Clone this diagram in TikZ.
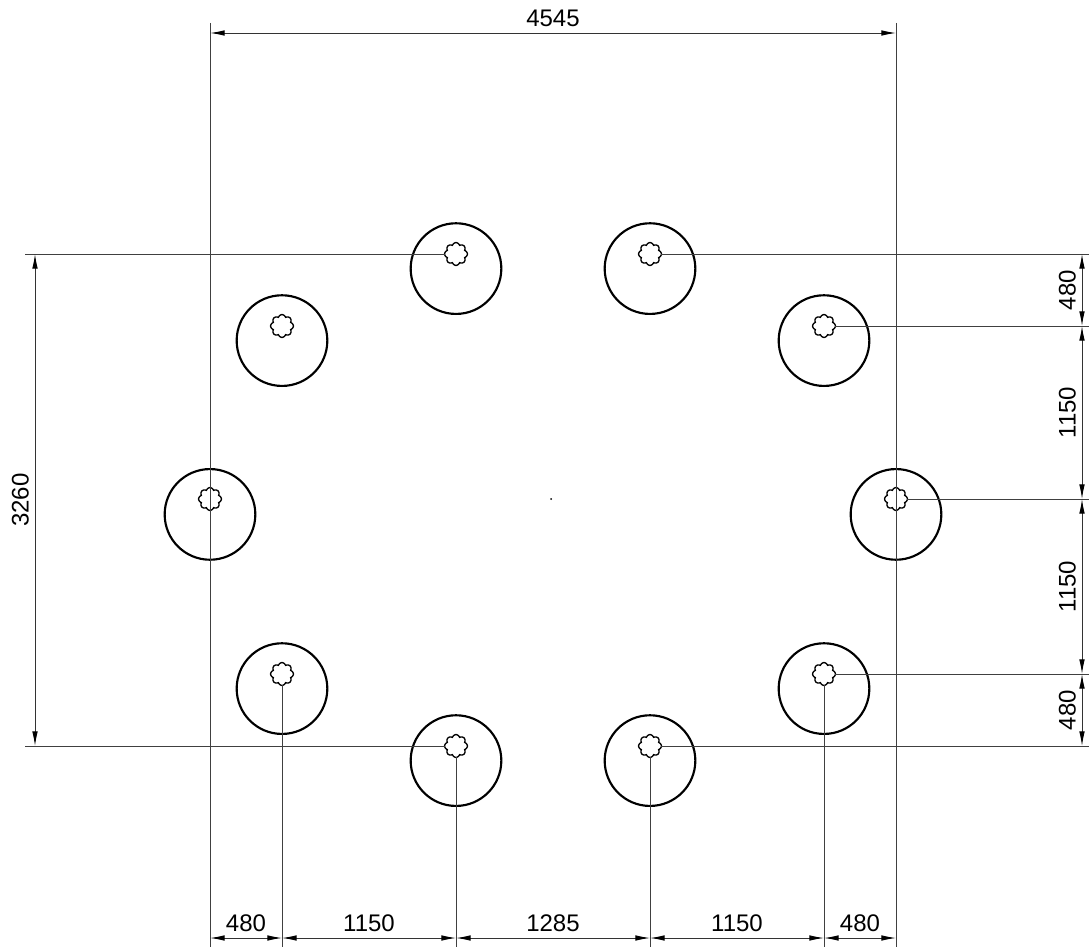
\documentclass[tikz,border=0pt]{standalone}
\usepackage{fontspec}
\setmainfont{Liberation Sans}
\usetikzlibrary{arrows.meta}

\begin{document}
\begin{tikzpicture}[x=0.75pt,y=-0.75pt,
    ring/.style={circle,draw=black,line width=1.6pt,inner sep=0pt,minimum size=68pt},
    hole/.style={circle,inner sep=0pt,minimum size=16.5pt},
    extline/.style={draw=black!75,line width=0.75pt},
    dimline/.style={draw=black!80,line width=0.7pt,{Latex[length=11pt,width=4.2pt,black]}-{Latex[length=11pt,width=4.2pt,black]}},
    dimtext/.style={font=\fontsize{18}{18}\selectfont,inner sep=4.2pt}]
        \useasboundingbox (0,0) rectangle (1089,949);

        % rings and holes
        \foreach \n/\x/\y/\ry in {a/456/254/268.6,b/650/254/268.6,c/824/326/340.6,d/896/499/514.4,e/824/674/688.6,f/650/746/760.6,g/456/746/760.6,h/282/674/688.6,i/210/499/514.4,j/282/326/340.6}{
            \node[ring] (r\n) at (\x,\ry) {};
            \node[hole] (h\n) at (\x,\y) {};
            \draw[line width=1pt] plot[variable=\t,domain=0:360,samples=97,smooth]
                ({\x+(9.4+2*abs(cos(4*\t)))*cos(\t)},{\y+(9.4+2*abs(cos(4*\t)))*sin(\t)});
        }
        \node[circle,fill=black,inner sep=0pt,minimum size=1.5pt] (mid) at (551,499) {};

        \coordinate (lt) at (210,23);
        \coordinate (lb) at (210,947);
        \coordinate (rt) at (896,23);
        \coordinate (rb) at (896,947);
        \draw[extline] (lt)--(lb);
        \draw[extline] (rt)--(rb);

        % left side
        \coordinate (ea) at (25,254);
        \coordinate (eg) at (25,746);
        \draw[extline] (ha.west)--(ea);
        \draw[extline] (hg.west)--(eg);

        % right side
        \foreach \n/\y in {b/254,c/326,d/499,e/674,f/746}{
            \coordinate (e\n) at (1089,\y);
            \draw[extline] (h\n.east)--(e\n);
        }

        % bottom side
        \foreach \n/\x in {h/282,g/456,f/650,e/824}{
            \coordinate (s\n) at (\x,947);
            \draw[extline] (h\n.south)--(s\n);
        }

        % dimensions
        \coordinate (t1) at (210,33);
        \coordinate (t2) at (896,33);
        \draw[dimline] (t1) -- node[dimtext,midway,above] {4545} (t2);

        \coordinate (v1) at (35,746);
        \coordinate (v2) at (35,254);
        \draw[dimline] (v1) -- node[dimtext,midway,above,rotate=90] {3260} (v2);

        \foreach \p/\q/\a/\b/\lab in {210/b1/282/b2/480,282/b2/456/b3/1150,456/b3/650/b4/1285,650/b4/824/b5/1150,824/b5/896/b6/480}{
            \coordinate (\q) at (\p,938);
            \coordinate (\b) at (\a,938);
            \draw[dimline] (\q) -- node[dimtext,midway,above] {\lab} (\b);
        }
        \foreach \p/\q/\a/\b/\lab in {326/s1/254/s2/480,499/s3/326/s4/1150,674/s5/499/s6/1150,746/s7/674/s8/480}{
            \coordinate (\q) at (1082,\p);
            \coordinate (\b) at (1082,\a);
            \draw[dimline] (\q) -- node[dimtext,midway,above,rotate=90] {\lab} (\b);
        }
    \end{tikzpicture}
\end{document}
